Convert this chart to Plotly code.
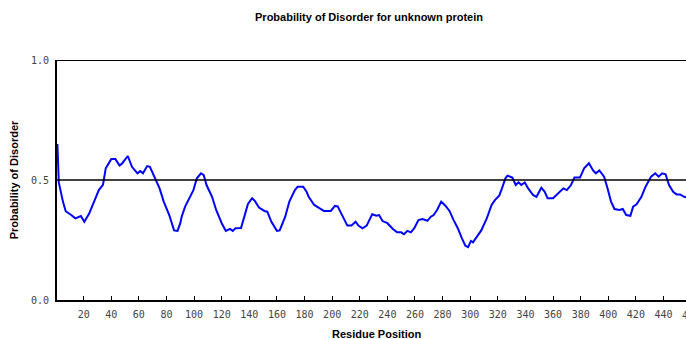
import plotly.graph_objects as go

residue = [1, 2, 5, 7, 11, 14, 18, 20.5, 24, 28, 31, 34, 36, 40, 43, 46, 48, 52, 55, 59, 61, 63, 66, 68,
           71, 75, 78, 82, 85.5, 88, 90, 91, 93.5, 97, 99.5, 102, 105, 107, 109, 113, 116, 120, 123, 126,
           128, 130, 134, 137, 139, 142, 144, 147, 151, 153, 156, 160, 162, 166, 169, 173, 175, 179, 181.5,
           183, 187, 191, 194, 199, 202, 204, 207.5, 211, 214, 217, 219, 222, 225, 229, 232, 234, 236.5,
           240, 244, 247, 250, 252, 254.5, 257, 259.5, 262.5, 265.5, 269, 271.5, 273.5, 276, 279, 282,
           285, 288, 291, 294, 296.5, 298.5, 300.5, 302, 305.5, 308, 312, 315.5, 318, 321, 323, 325.5,
           327, 330.5, 333, 335, 337, 339.5, 342, 345.5, 348, 351.5, 354, 356, 360, 363, 365, 367.5, 370,
           373, 375.5, 379.5, 382.5, 386, 389, 391, 393.5, 397, 399.5, 402, 404.5, 408, 410.5, 413,
           416, 418, 420.5, 424, 427, 431, 434, 436.5, 439, 441.5, 444, 447, 449.5, 452, 455, 458]
disorder = [0.65, 0.49, 0.41, 0.37, 0.354, 0.34, 0.35, 0.326, 0.36, 0.42, 0.458, 0.48, 0.549, 0.587,
            0.587, 0.56, 0.57, 0.60, 0.555, 0.528, 0.537, 0.528, 0.558, 0.555, 0.514, 0.465, 0.41, 0.354,
            0.29, 0.288, 0.32, 0.347, 0.389, 0.43, 0.458, 0.507, 0.528, 0.52, 0.479, 0.43, 0.375, 0.32,
            0.288, 0.296, 0.288, 0.299, 0.30, 0.36, 0.40, 0.424, 0.413, 0.385, 0.371, 0.368, 0.326, 0.288,
            0.29, 0.347, 0.41, 0.458, 0.472, 0.472, 0.451, 0.43, 0.396, 0.382, 0.371, 0.371, 0.392, 0.39,
            0.347, 0.31, 0.31, 0.326, 0.31, 0.299, 0.31, 0.357, 0.351, 0.354, 0.329, 0.32, 0.296, 0.282,
            0.282, 0.274, 0.288, 0.282, 0.299, 0.333, 0.337, 0.33, 0.347, 0.354, 0.375, 0.41, 0.393,
            0.371, 0.333, 0.299, 0.257, 0.226, 0.22, 0.246, 0.24, 0.27, 0.29, 0.34, 0.396, 0.417, 0.435,
            0.465, 0.507, 0.518, 0.51, 0.479, 0.49, 0.479, 0.49, 0.465, 0.4375, 0.43, 0.468, 0.451, 0.424,
            0.424, 0.441, 0.454, 0.465, 0.458, 0.479, 0.51, 0.51, 0.549, 0.57, 0.54, 0.528, 0.54, 0.514,
            0.465, 0.41, 0.379, 0.375, 0.379, 0.354, 0.351, 0.389, 0.399, 0.43, 0.472, 0.514, 0.528,
            0.514, 0.528, 0.524, 0.479, 0.451, 0.44, 0.44, 0.43, 0.425]

x_ticks = [20, 40, 60, 80, 100, 120, 140, 160, 180, 200, 220, 240, 260, 280, 300, 320, 340, 360,
           380, 400, 420, 440]
y_ticks = [0.0, 0.5, 1.0]
y_tick_text = ["0.0", "0.5", "1.0"]
x_range = [0.7, 456.3]
cut_tick = 460

tick_font = dict(family="DejaVu Sans Mono", size=10, color="#444444")
bold_font = dict(family="Liberation Sans", size=11, color="#000000")

fig = go.Figure()
fig.add_trace(go.Scatter(x=residue, y=disorder, mode="lines",
                         line=dict(color="#0000ff", width=2), showlegend=False,
                         cliponaxis=True))

fig.update_layout(
    width=686, height=339,
    margin=dict(l=57, r=0, t=60, b=39),
    paper_bgcolor="white", plot_bgcolor="white",
    title=dict(text="<b>Probability of Disorder for unknown protein</b>",
               x=369 / 686, xanchor="center", y=1 - 17 / 339, yanchor="middle",
               font=bold_font),
    xaxis=dict(range=x_range, tickvals=x_ticks, ticks="inside", ticklen=4, tickwidth=1,
               tickcolor="#000000", showline=True, linecolor="#000000", linewidth=2,
               showgrid=False, zeroline=False, tickfont=tick_font, ticklabelstandoff=4),
    yaxis=dict(range=[0, 1], tickvals=y_ticks, ticktext=y_tick_text, ticks="",
               showline=True, linecolor="#000000", linewidth=2, showgrid=False,
               zeroline=False, tickfont=tick_font, ticklabelstandoff=4,
               title=dict(text="<b>Probability of Disorder</b>", font=bold_font, standoff=10)),
    shapes=[
        dict(type="line", xref="paper", yref="y", x0=0, x1=1, y0=1, y1=1,
             line=dict(color="#000000", width=2)),
        dict(type="line", xref="paper", yref="y", x0=0, x1=1, y0=0.5, y1=0.5,
             line=dict(color="#000000", width=1.5)),
    ],
    annotations=[
        dict(text="<b>Residue Position</b>", xref="paper", yref="paper",
             x=(377 - 57) / 629, y=-34 / 240, xanchor="center", yanchor="middle",
             showarrow=False, font=bold_font),
        dict(text=str(cut_tick), xref="paper", yref="paper",
             x=(cut_tick - x_range[0]) / (x_range[1] - x_range[0]), y=-15 / 240,
             xanchor="center", yanchor="middle", showarrow=False, font=tick_font),
    ],
)

fig.write_html("out.html")
